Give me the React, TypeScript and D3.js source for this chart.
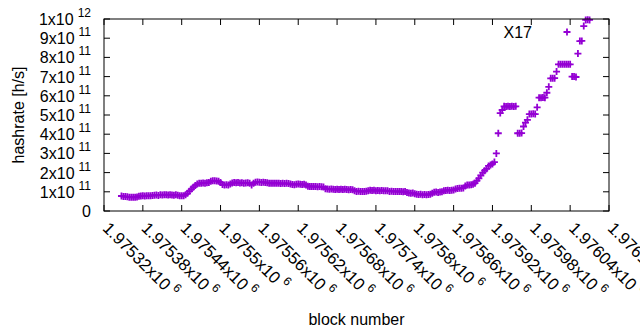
import React from 'react';
import * as d3 from 'd3';

// one sample every 3 blocks, hashrate in units of 1e11 h/s
const firstBlock = 1975347;
const blockStep = 3;
const hashrate = [
  0.78, 0.76, 0.75, 0.74, 0.72, 0.71, 0.72, 0.71, 0.73, 0.77,
  0.78, 0.79, 0.78, 0.8, 0.79, 0.8, 0.81, 0.82, 0.83, 0.81,
  0.84, 0.83, 0.85, 0.84, 0.83, 0.84, 0.83, 0.82, 0.84, 0.82,
  0.8, 0.79, 0.8, 0.85, 0.92, 1.03, 1.14, 1.24, 1.33, 1.4,
  1.44, 1.45, 1.46, 1.45, 1.47, 1.48, 1.55, 1.57, 1.58, 1.56,
  1.55, 1.48, 1.38, 1.36, 1.37, 1.36, 1.4, 1.46, 1.49, 1.47,
  1.48, 1.46, 1.47, 1.45, 1.46, 1.47, 1.44, 1.36, 1.45, 1.5,
  1.51, 1.5, 1.49, 1.5, 1.48, 1.47, 1.45, 1.44, 1.45, 1.44,
  1.45, 1.44, 1.43, 1.44, 1.43, 1.44, 1.43, 1.41, 1.38, 1.37,
  1.39, 1.4, 1.39, 1.38, 1.39, 1.36, 1.29, 1.28, 1.27, 1.28,
  1.27, 1.26, 1.27, 1.26, 1.25, 1.16, 1.14, 1.13, 1.14, 1.13,
  1.12, 1.13, 1.12, 1.13, 1.12, 1.13, 1.12, 1.11, 1.12, 1.11,
  1.06, 1.02, 1.03, 1.02, 1.01, 1.02, 1.03, 1.06, 1.08, 1.07,
  1.08, 1.06, 1.07, 1.06, 1.07, 1.06, 1.05, 1.06, 1.02, 1.03,
  1.02, 1.01, 1.02, 1.01, 1.02, 1.0, 1.01, 0.96, 0.94, 0.93,
  0.94, 0.9, 0.87, 0.86, 0.87, 0.85, 0.86, 0.84, 0.86, 0.87,
  0.93, 0.98, 0.99, 0.97, 0.99, 1.0, 1.05, 1.07, 1.08, 1.07,
  1.08, 1.09, 1.14, 1.17, 1.18, 1.19, 1.2, 1.3, 1.35, 1.36,
  1.37, 1.39, 1.45, 1.58, 1.7, 1.85, 2.0, 2.1, 2.2, 2.35,
  2.4, 2.45, 2.55, 3.0, 4.05, 5.1, 5.26, 5.45, 5.44, 5.45,
  5.44, 5.45, 5.44, 5.45, 4.05, 4.05, 4.06, 4.4, 4.6, 4.75,
  5.05, 5.05, 5.06, 5.05, 5.4, 5.9, 5.9, 5.91, 5.9, 6.16,
  6.47, 6.91, 6.91, 6.92, 7.26, 7.64, 7.64, 7.64, 7.64, 7.64,
  7.64, 7.64, 7.0, 7.0, 6.98, 8.2, 8.85, 8.86, 9.63, 9.95,
  9.96, 9.95,
];

const xTicks = [
  1975320, 1975380, 1975440, 1975500, 1975560, 1975620, 1975680,
  1975740, 1975800, 1975860, 1975920, 1975980, 1976040, 1976100,
];
const yTicks = [0, 1e11, 2e11, 3e11, 4e11, 5e11, 6e11, 7e11, 8e11, 9e11, 1e12];
const seriesName = 'X17';

const width = 640;
const height = 330;
const margin = { top: 19, right: 31, bottom: 119, left: 104 };
const purple = '#9400d3';
const font = '"Liberation Sans", Arial, sans-serif';
const fs = 16;
const supFs = 12;
const plus = 'M-3.5,0H3.5M0,-3.5V3.5';

export default function App() {
  const x = d3
    .scaleLinear()
    .domain([xTicks[0], xTicks[xTicks.length - 1]])
    .range([margin.left, width - margin.right]);
  const y = d3
    .scaleLinear()
    .domain([0, 1e12])
    .range([height - margin.bottom, margin.top]);

  const points = hashrate.map((v, i) => ({ block: firstBlock + i * blockStep, value: v * 1e11 }));
  const x0 = x.range()[0];
  const x1 = x.range()[1];
  const y0 = y.range()[0];
  const y1 = y.range()[1];
  const tick = 6;

  return (
    <svg
      width={width}
      height={height}
      style={{ position: 'absolute', left: 0, top: 0, background: '#fff' }}
      fontFamily={font}
      fontSize={fs}
    >
      <rect width={width} height={height} fill="#fff" />

      {/* y ticks */}
      {yTicks.map((t) => {
        const e = t === 0 ? 0 : Math.floor(Math.log10(t));
        const m = t === 0 ? 0 : Math.round(t / Math.pow(10, e));
        return (
          <g key={'y' + t}>
            <line x1={x0} x2={x0 + tick} y1={y(t)} y2={y(t)} stroke="#000" />
            <line x1={x1} x2={x1 - tick} y1={y(t)} y2={y(t)} stroke="#000" />
            <text x={91} y={y(t)} textAnchor="end" dominantBaseline="central">
              {t === 0 ? (
                '0'
              ) : (
                <>
                  <tspan>{m + 'x10'}</tspan>
                  <tspan dx={4} dy={-6} fontSize={supFs}>
                    {e}
                  </tspan>
                </>
              )}
            </text>
          </g>
        );
      })}

      {/* x ticks */}
      {xTicks.map((t) => (
        <g key={'x' + t}>
          <line x1={x(t)} x2={x(t)} y1={y0} y2={y0 - tick} stroke="#000" />
          <line x1={x(t)} x2={x(t)} y1={y1} y2={y1 + tick} stroke="#000" />
          <text
            transform={`translate(${x(t) + 2},${y0 + 14}) rotate(45)`}
            dominantBaseline="central"
            fontSize={16.8}
          >
            <tspan>{+(t / 1e6).toFixed(6) + 'x10'}</tspan>
            <tspan dx={4} dy={-6} fontSize={supFs}>
              6
            </tspan>
          </text>
        </g>
      ))}

      {/* data */}
      <g stroke={purple} strokeWidth={1.8} fill="none">
        {points.map((p, i) => (
          <path key={i} d={plus} transform={`translate(${x(p.block)},${y(p.value)})`} />
        ))}
      </g>

      {/* key */}
      <text x={532} y={32} textAnchor="end" dominantBaseline="central">
        {seriesName}
      </text>
      <path d={plus} transform="translate(567,32)" stroke={purple} strokeWidth={1.8} fill="none" />

      <rect x={x0} y={y1} width={x1 - x0} height={y0 - y1} fill="none" stroke="#000" />

      <text
        transform={`translate(18,${(y0 + y1) / 2}) rotate(-90)`}
        textAnchor="middle"
        dominantBaseline="central"
      >
        hashrate [h/s]
      </text>
      <text x={(x0 + x1) / 2} y={325} textAnchor="middle">
        block number
      </text>
    </svg>
  );
}
